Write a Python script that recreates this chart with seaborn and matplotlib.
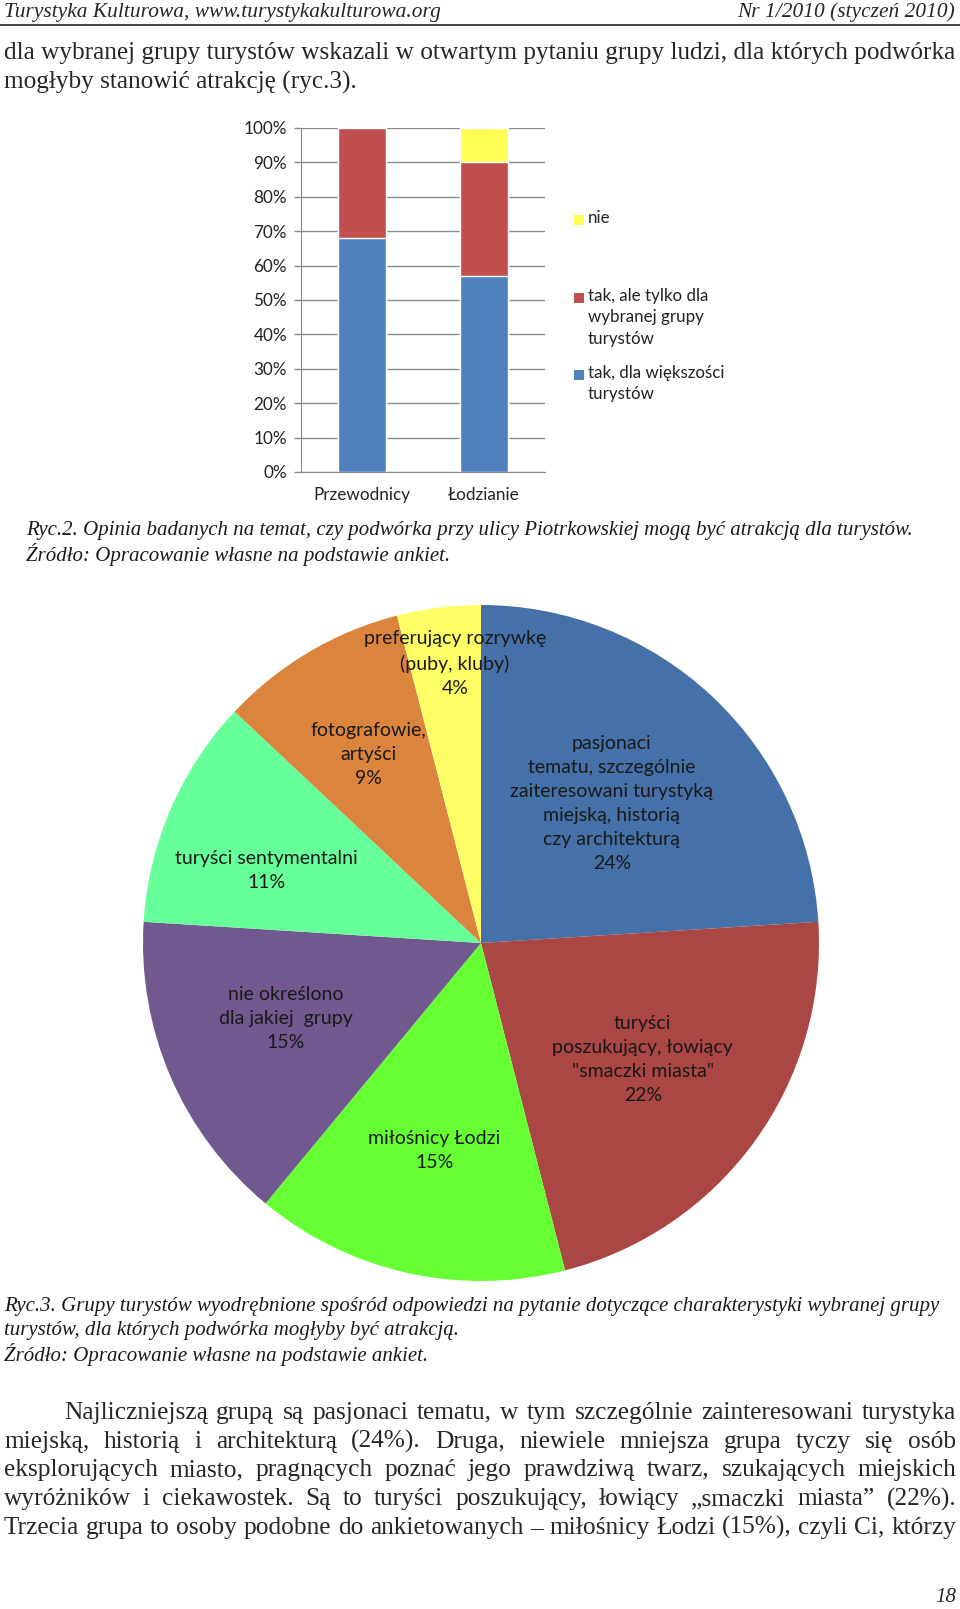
import matplotlib
matplotlib.use("Agg")
import matplotlib.pyplot as plt
import seaborn as sns
import numpy as np
from matplotlib import font_manager
from matplotlib.patches import Rectangle

# --- data ---------------------------------------------------------------
groups = ["Przewodnicy", "Łodzianie"]
tak_wiekszosc = [68, 57]
tak_wybrana = [32, 33]
nie = [0, 10]
bar_legend = ["nie", "tak, ale tylko dla\nwybranej grupy\nturystów", "tak, dla większości\nturystów"]

pie_labels = [
    "pasjonaci\ntematu, szczególnie\nzaiteresowani turystyką\nmiejską, historią\nczy architekturą",
    "turyści\nposzukujący, łowiący\n\"smaczki miasta\"",
    "miłośnicy Łodzi",
    "nie określono\ndla jakiej  grupy",
    "turyści sentymentalni",
    "fotografowie,\nartyści",
    "preferujący rozrywkę\n(puby, kluby)",
]
pie_values = [24, 22, 15, 15, 11, 9, 4]
pie_colors = ["#4671A8", "#AA4643", "#66FF33", "#71588F", "#66FF99", "#DB843D", "#FFFF66"]
# where each label sits: fraction of radius, and turn (deg) away from the slice middle
label_radius = [0.565, 0.59, 0.63, 0.62, 0.67, 0.65, 0.83]
label_turn = [0, 0.2, 0, -2.3, 4.8, 0.3, -1.9]

header_left = "Turystyka Kulturowa, www.turystykakulturowa.org"
header_right = "Nr 1/2010 (styczeń 2010)"
intro = ["dla wybranej grupy turystów wskazali w otwartym pytaniu grupy ludzi, dla których podwórka",
         "mogłyby stanowić atrakcję (ryc.3)."]
caption2 = ["Ryc.2. Opinia badanych na temat, czy podwórka przy ulicy Piotrkowskiej mogą być atrakcją dla turystów.",
            "Źródło: Opracowanie własne na podstawie ankiet."]
caption3 = ["Ryc.3. Grupy turystów wyodrębnione spośród odpowiedzi na pytanie dotyczące charakterystyki wybranej grupy",
            "turystów, dla których podwórka mogłyby być atrakcją.",
            "Źródło: Opracowanie własne na podstawie ankiet."]
paragraph = [
    "Najliczniejszą grupą są pasjonaci tematu, w tym szczególnie zainteresowani turystyka",
    "miejską, historią i architekturą (24%). Druga, niewiele mniejsza grupa tyczy się osób",
    "eksplorujących miasto, pragnących poznać jego prawdziwą twarz, szukających miejskich",
    "wyróżników i ciekawostek. Są to turyści poszukujący, łowiący „smaczki miasta” (22%).",
    "Trzecia grupa to osoby podobne do ankietowanych – miłośnicy Łodzi (15%), czyli Ci, którzy",
]

# --- fonts ----------------------------------------------------------------
sns.set_style("white")
names = {f.name for f in font_manager.fontManager.ttflist}
narrow = "Liberation Sans Narrow" if "Liberation Sans Narrow" in names else "Lato"
serif = "Liberation Serif"
chart_font = "Lato"

W, H = 960, 1609
fig = plt.figure(figsize=(W / 100, H / 100), dpi=100)
page = fig.add_axes([0, 0, 1, 1])
page.set_xlim(0, W)
page.set_ylim(H, 0)
page.axis("off")
renderer = fig.canvas.get_renderer()


def text_width(s, size, **kw):
    t = page.text(0, 0, s, fontsize=size, family=serif, **kw)
    w = t.get_window_extent(renderer).width
    t.remove()
    return w


def fit_size(s, width, **kw):
    return 10 * width / text_width(s, 10, **kw)


def justify(line, x0, x1, y, size, **kw):
    words = line.split(" ")
    widths = [text_width(w, size, **kw) for w in words]
    gap = (x1 - x0 - sum(widths)) / (len(words) - 1)
    x = x0
    for w, ww in zip(words, widths):
        page.text(x, y, w, fontsize=size, family=serif, va="center", **kw)
        x += ww + gap


# header
hs = fit_size(header_left, 437, style="italic")
page.text(4, 12, header_left, fontsize=hs, family=serif, style="italic", va="center")
page.text(955, 12, header_right, fontsize=hs, family=serif, style="italic", va="center", ha="right")
page.plot([0, W], [25, 25], color="#333333", lw=1.3)

# intro text
bs = fit_size(intro[0], 952)
page.text(4, 53, intro[0], fontsize=bs, family=serif, va="center")
page.text(4, 82, intro[1], fontsize=bs, family=serif, va="center")

# captions
cs = fit_size(caption2[0], 890, style="italic")
page.text(26, 531, caption2[0], fontsize=cs, family=serif, style="italic", va="center", color="#1a1a1a")
page.text(26, 555, caption2[1], fontsize=cs, family=serif, style="italic", va="center", color="#1a1a1a")
for i, line in enumerate(caption3):
    page.text(4, 1307 + i * 24, line, fontsize=cs, family=serif, style="italic", va="center", color="#1a1a1a")

# paragraph
ps = fit_size(paragraph[-1], 950)
for i, line in enumerate(paragraph):
    justify(line, 64 if i == 0 else 4, 956, 1413 + i * 28.7, ps)
page.text(956, 1598, "18", fontsize=cs, family=serif, style="italic", va="center", ha="right")

# --- stacked bar chart ----------------------------------------------------
ax = fig.add_axes([301 / W, 1 - 472 / H, 244 / W, 344 / H])
cum_blue = np.array(tak_wiekszosc)
cum_red = cum_blue + np.array(tak_wybrana)
cum_yellow = cum_red + np.array(nie)
for vals, col in [(cum_yellow, "#FFFF55"), (cum_red, "#C0504D"), (cum_blue, "#4F81BD")]:
    sns.barplot(x=groups, y=vals, color=col, width=0.4, saturation=1, ax=ax, zorder=3)
ax.set_ylim(0, 100)
ax.set_xlim(-0.5, 1.5)
ax.set_yticks(range(0, 101, 10))
ax.set_yticklabels([f"{v}%" for v in range(0, 101, 10)], family=chart_font, fontsize=12.3, color="#222222")
ax.set_xticks([-0.5, 0.5, 1.5], minor=True)
ax.tick_params(axis="x", which="major", length=0, pad=11, labelsize=12.3)
ax.tick_params(axis="x", which="minor", length=5, color="#888888", width=1)
ax.tick_params(axis="y", length=5, color="#888888", width=1, left=True, pad=5)
for lab in ax.get_xticklabels():
    lab.set_family(chart_font)
    lab.set_color("#222222")
ax.yaxis.grid(True, color="#8a8a8a", lw=1, zorder=0)
ax.set_axisbelow(True)
for s in ["top", "right"]:
    ax.spines[s].set_visible(False)
for s in ["left", "bottom"]:
    ax.spines[s].set_color("#888888")
ax.set_xlabel("")
ax.set_ylabel("")

# legend drawn by hand, handles aligned to the first line of each label
leg_colors = ["#FFFF55", "#C0504D", "#4F81BD"]
leg_y = [220, 298, 375]
for lab, col, y in zip(bar_legend, leg_colors, leg_y):
    page.add_patch(Rectangle((574, y - 5), 10, 10, color=col, lw=0))
    page.text(588, y - 10, lab, family=chart_font, fontsize=12.2, va="top", color="#222222",
              linespacing=1.42)

# --- pie chart -------------------------------------------------------------
cx, cy, r = 481, 943, 338
pax = fig.add_axes([(cx - r) / W, 1 - (cy + r) / H, 2 * r / W, 2 * r / H])
wedges, _ = pax.pie(pie_values, colors=pie_colors, startangle=90, counterclock=False,
                    wedgeprops=dict(linewidth=0))
pax.set_xlim(-1, 1)
pax.set_ylim(-1, 1)
for w, lab, v, rr, turn in zip(wedges, pie_labels, pie_values, label_radius, label_turn):
    ang = np.deg2rad((w.theta1 + w.theta2) / 2 + turn)
    pax.text(rr * np.cos(ang), rr * np.sin(ang), f"{lab}\n{v}%", ha="center", va="center",
             family=narrow, fontsize=14, color="#1a1a1a", linespacing=1.5)

fig.savefig("out.png", dpi=100)
